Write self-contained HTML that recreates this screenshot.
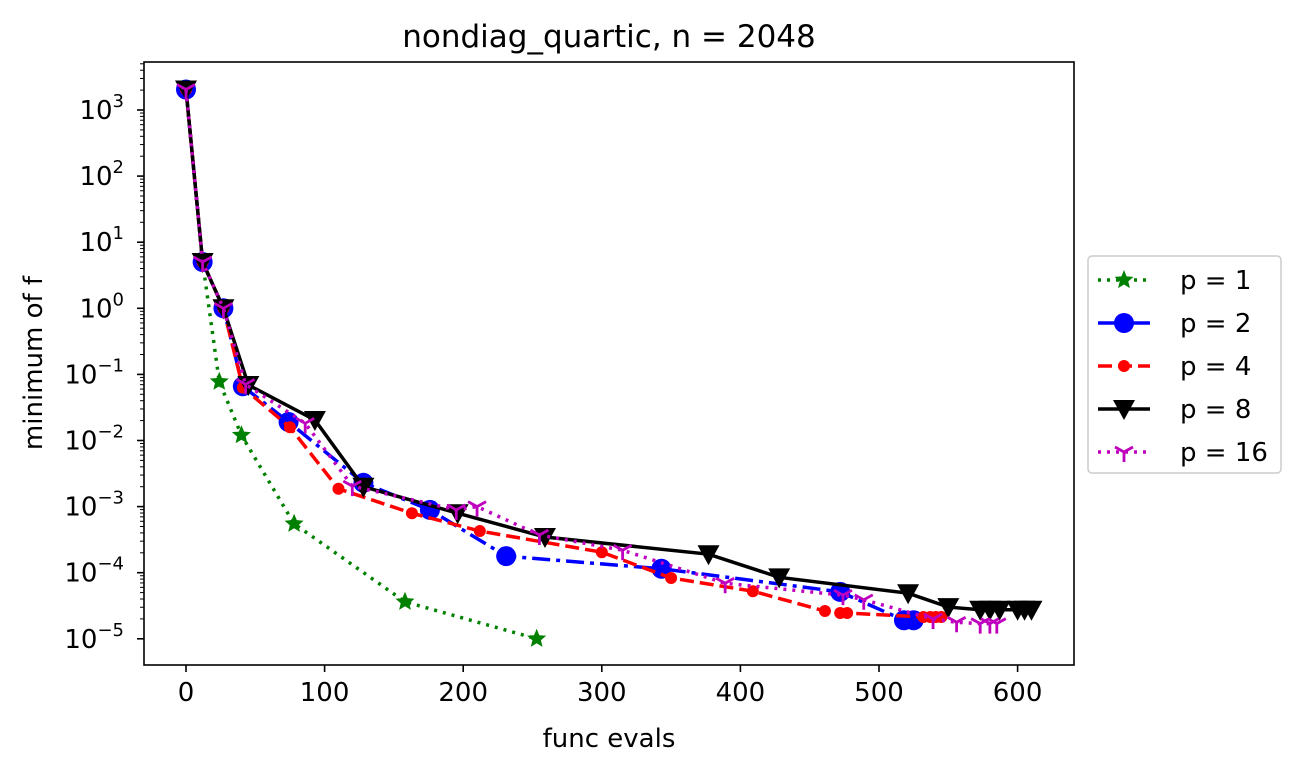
<!DOCTYPE html>
<html><head><meta charset="utf-8"><style>
body{margin:0;background:#fff;font-family:"DejaVu Sans","Liberation Sans",sans-serif}
svg text{font-family:"DejaVu Sans","Liberation Sans",sans-serif;fill:#000}
</style></head><body>
<svg id="chart" width="1301" height="773" xmlns="http://www.w3.org/2000/svg">
<rect width="1301" height="773" fill="#fff"/>
<text x="609" y="47" font-size="31" text-anchor="middle">nondiag_quartic, n = 2048</text>
<g id="plot"></g>
<rect x="144" y="62" width="930" height="603" fill="none" stroke="#000" stroke-width="1.6"/>
<g id="ticks"></g>
<text x="609" y="747" font-size="26" text-anchor="middle">func evals</text>
<text transform="translate(42,363) rotate(-90)" font-size="26" text-anchor="middle">minimum of f</text>
<g id="legend"></g>
</svg>
<script>
const xTicks=[0,100,200,300,400,500,600];
const yTickExps=[-5,-4,-3,-2,-1,0,1,2,3];
const p1X=[0,12,24,40,78,158,253];
const p1Log=[3.31,0.7,-1.11,-1.92,-3.26,-4.44,-5.0];
const p2X=[0,12,27,41,74,128,176,231,343,472,518,525];
const p2Log=[3.31,0.7,0,-1.18,-1.72,-2.64,-3.05,-3.75,-3.94,-4.29,-4.72,-4.72];
const p4X=[0,12,27,41,75,110,163,212,300,350,409,461,472,477,532,537,541,545];
const p4Log=[3.31,0.7,0,-1.2,-1.8,-2.73,-3.1,-3.37,-3.69,-4.08,-4.28,-4.58,-4.61,-4.61,-4.67,-4.67,-4.67,-4.67];
const p8X=[0,12,27,45,93,128,196,259,377,428,521,550,573,580,587,600,605,610];
const p8Log=[3.31,0.7,0,-1.16,-1.69,-2.7,-3.1,-3.46,-3.72,-4.07,-4.31,-4.52,-4.56,-4.56,-4.56,-4.56,-4.56,-4.56];
const p16X=[0,12,27,43,86,120,195,210,255,315,389,474,489,539,556,573,580,585];
const p16Log=[3.31,0.7,0,-1.15,-1.74,-2.69,-3.05,-3.0,-3.43,-3.66,-4.16,-4.34,-4.41,-4.7,-4.75,-4.77,-4.77,-4.77];

const NS="http://www.w3.org/2000/svg";
const xs=v=>186+v*1.386;
const ys=l=>110+(3-l)*66.1;
function mk(tag,attrs,parent){const e=document.createElementNS(NS,tag);for(const k in attrs)e.setAttribute(k,attrs[k]);parent.appendChild(e);return e;}
const ticks=document.getElementById('ticks');
xTicks.forEach(t=>{
  const l=mk('line',{x1:xs(t),x2:xs(t),y1:665,y2:672,stroke:'#000','stroke-width':1.6},ticks);
  
  
  const tx=mk('text',{x:xs(t),y:701,'font-size':26,'text-anchor':'middle'},ticks);
  tx.textContent=t;
  
  
});
yTickExps.forEach(e=>{
  const y=ys(e);
  const l=mk('line',{x1:137,x2:144,y1:y,y2:y,stroke:'#000','stroke-width':1.6},ticks);
  
  
  for(let k=2;k<10;k++){const yy=ys(e+Math.log10(k));if(yy<62||yy>665)continue;
    const m=mk('line',{x1:140,x2:144,y1:yy,y2:yy,stroke:'#000','stroke-width':1},ticks);
    
    }
  for(let k=2;k<10;k++){const yy=ys(e+1+Math.log10(k));if(e!==3||yy<62)continue;
    const m=mk('line',{x1:140,x2:144,y1:yy,y2:yy,stroke:'#000','stroke-width':1},ticks);
    
    }
  const tx=mk('text',{x:124,y:y+9,'font-size':26,'text-anchor':'end'},ticks);
  
  
  tx.innerHTML='10<tspan dy="-12" font-size="18">'+(e<0?'\u2212'+(-e):e)+'</tspan>';
});
const series=[
 {name:'p = 1',x:p1X,l:p1Log,c:'#008000',dash:'3,6',m:'star'},
 {name:'p = 2',x:p2X,l:p2Log,c:'#0000ff',dash:'18,6,4,6',m:'circle'},
 {name:'p = 4',x:p4X,l:p4Log,c:'#ff0000',dash:'14,6',m:'dot'},
 {name:'p = 8',x:p8X,l:p8Log,c:'#000',dash:'',m:'tri'},
 {name:'p = 16',x:p16X,l:p16Log,c:'#bf00bf',dash:'3,6',m:'y'}];
function marker(type,x,y,c,g){
  let e;
  if(type==='circle')e=mk('circle',{cx:x,cy:y,r:10,fill:c},g);
  else if(type==='dot')e=mk('circle',{cx:x,cy:y,r:6,fill:c},g);
  else if(type==='tri')e=mk('polygon',{points:`${x-11},${y-9} ${x+11},${y-9} ${x},${y+11}`,fill:c},g);
  else if(type==='star'){let p=[];for(let i=0;i<10;i++){const r=i%2?4.5:10,a=-Math.PI/2+i*Math.PI/5;p.push((x+r*Math.cos(a)).toFixed(1)+','+(y+r*Math.sin(a)).toFixed(1));}e=mk('polygon',{points:p.join(' '),fill:c},g);}
  else{e=mk('path',{d:`M${x},${y}L${x},${y+10}M${x},${y}L${x-9},${y-5}M${x},${y}L${x+9},${y-5}`,stroke:c,'stroke-width':2.8,fill:'none'},g);}
  return e;
}
const plot=document.getElementById('plot');
series.forEach((s,i)=>{
  const g=mk('g',{},plot);
  
  
  const pts=s.x.map((v,j)=>xs(v)+','+ys(s.l[j])).join(' ');
  const pl=mk('polyline',{points:pts,fill:'none',stroke:s.c,'stroke-width':3.5,'stroke-dasharray':s.dash},g);
  
  
  s.x.forEach((v,j)=>{const m=marker(s.m,xs(v),ys(s.l[j]),s.c,g);
    
    });
});
const lg=document.getElementById('legend');
const box=mk('rect',{x:1088,y:256,width:193,height:217,rx:4,fill:'#fff',stroke:'#ccc','stroke-width':1.5},lg);


series.forEach((s,i)=>{
  const y=280+i*43;
  const g=mk('g',{},lg);
  
  
  mk('line',{x1:1098,x2:1150,y1:y,y2:y,stroke:s.c,'stroke-width':3.5,'stroke-dasharray':s.dash},g);
  marker(s.m,1124,y,s.c,g);
  const t=mk('text',{x:1180,y:y+9,'font-size':26},g);
  t.textContent=s.name;
});
</script>
</body></html>
